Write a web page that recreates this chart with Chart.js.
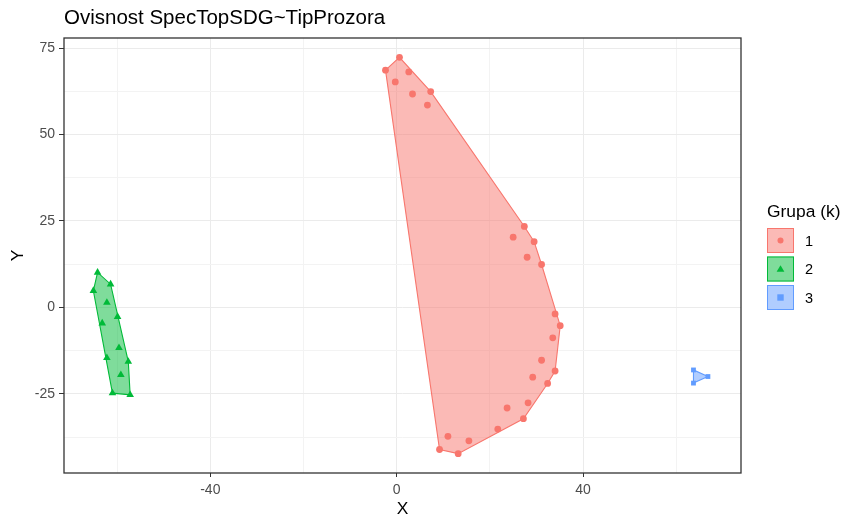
<!DOCTYPE html>
<html>
<head>
<meta charset="utf-8">
<script src="https://cdn.jsdelivr.net/npm/chart.js@4/dist/chart.umd.min.js"></script>
<style>
html,body{margin:0;padding:0;background:#fff;}
#wrap{width:843px;height:518px;position:relative;}
</style>
</head>
<body>
<div id="wrap"><canvas id="c" width="843" height="518"></canvas></div>
<script>
// ---- data ----
const chartTitle = "Ovisnost SpecTopSDG~TipProzora";
const groupNames = ["1", "2", "3"];
const groupColors = ["#F8766D", "#00BA38", "#619CFF"];
const groupFills = ["rgba(248,118,109,0.5)", "rgba(0,186,56,0.5)", "rgba(97,156,255,0.5)"];
const groupShapes = ["circle", "triangle", "rect"];

const group1X = [-2.4, 0.6, 2.6, -0.3, 3.4, 7.3, 6.6, 27.4, 25.0, 29.5, 28.0, 31.1, 34.0, 35.1, 33.5, 31.1, 34.0, 29.2, 32.4, 28.2, 23.7, 27.2, 21.7, 11.0, 15.5, 9.2, 13.2];
const group1Y = [68.6, 72.3, 68.1, 65.2, 61.7, 62.4, 58.5, 23.4, 20.3, 19.0, 14.5, 12.4, -1.9, -5.3, -8.8, -15.3, -18.4, -20.2, -22.0, -27.6, -29.1, -32.2, -35.2, -37.3, -38.6, -41.1, -42.3];
const group2X = [-64.2, -61.4, -65.1, -62.2, -59.9, -63.2, -59.6, -62.2, -57.6, -59.2, -61.0, -57.2];
const group2Y = [10.1, 6.7, 4.8, 1.4, -2.7, -4.6, -11.7, -14.6, -15.7, -19.5, -24.8, -25.3];
const group3X = [63.7, 63.7, 66.8];
const group3Y = [-18.1, -21.9, -20.0];

const xTickValues = [-60, -40, -20, 0, 20, 40, 60];
const xTickLabels = [-40, 0, 40];
const yTickValues = [-37.5, -25, -12.5, 0, 12.5, 25, 37.5, 50, 62.5, 75];
const yTickLabels = [-25, 0, 25, 50, 75];
const xRange = [-71.4, 73.9];
const yRange = [-47.9, 77.9];

// ---- helpers ----
function toPoints(xs, ys) { return xs.map((x, i) => ({x: x, y: ys[i]})); }
function convexHull(pts) {
  const p = pts.slice().sort((a, b) => a.x - b.x || a.y - b.y);
  const cross = (o, a, b) => (a.x - o.x) * (b.y - o.y) - (a.y - o.y) * (b.x - o.x);
  const lower = [];
  for (const q of p) { while (lower.length >= 2 && cross(lower[lower.length-2], lower[lower.length-1], q) <= 0) lower.pop(); lower.push(q); }
  const upper = [];
  for (let i = p.length - 1; i >= 0; i--) { const q = p[i]; while (upper.length >= 2 && cross(upper[upper.length-2], upper[upper.length-1], q) <= 0) upper.pop(); upper.push(q); }
  upper.pop(); lower.pop();
  const h = lower.concat(upper);
  h.push({x: h[0].x, y: h[0].y});
  return h;
}

const groupsXY = [[group1X, group1Y], [group2X, group2Y], [group3X, group3Y]];
const datasets = [];
groupsXY.forEach((g, i) => {
  datasets.push({
    label: "hull" + groupNames[i],
    data: convexHull(toPoints(g[0], g[1])),
    showLine: true,
    fill: 'shape',
    backgroundColor: groupFills[i],
    borderColor: groupColors[i],
    borderWidth: 1.1,
    pointRadius: 0,
    pointHoverRadius: 0,
    tension: 0,
    order: 2
  });
});
groupsXY.forEach((g, i) => {
  datasets.push({
    label: groupNames[i],
    data: toPoints(g[0], g[1]),
    pointStyle: groupShapes[i],
    pointRadius: i === 1 ? 4.4 : 3.4,
    backgroundColor: groupColors[i],
    borderColor: groupColors[i],
    borderWidth: 0,
    showLine: false,
    order: 1
  });
});

const FONT = "'Liberation Sans', Arial, sans-serif";

const panelPlugin = {
  id: 'panel',
  afterDraw(chart) {
    const ctx = chart.ctx, a = chart.chartArea;
    ctx.save();
    ctx.strokeStyle = '#333333';
    ctx.lineWidth = 1.3;
    ctx.strokeRect(a.left, a.top, a.right - a.left, a.bottom - a.top);
    // legend
    const lx = 767;
    ctx.fillStyle = '#000';
    ctx.font = "17.4px " + FONT;
    ctx.textAlign = 'left';
    ctx.textBaseline = 'alphabetic';
    ctx.fillText("Grupa (k)", lx, 217);
    const tops = [228, 256.5, 285];
    groupNames.forEach((n, i) => {
      const t = tops[i];
      ctx.fillStyle = groupFills[i];
      ctx.fillRect(lx, t, 27, 25);
      ctx.strokeStyle = groupColors[i];
      ctx.lineWidth = 1;
      ctx.strokeRect(lx + 0.5, t + 0.5, 26, 24);
      const cx = lx + 13.5, cy = t + 12.5;
      ctx.fillStyle = groupColors[i];
      ctx.beginPath();
      if (groupShapes[i] === 'circle') { ctx.arc(cx, cy, 3, 0, Math.PI * 2); }
      else if (groupShapes[i] === 'triangle') { ctx.moveTo(cx, cy - 3.8); ctx.lineTo(cx + 3.9, cy + 2.8); ctx.lineTo(cx - 3.9, cy + 2.8); ctx.closePath(); }
      else { ctx.rect(cx - 3.2, cy - 3.2, 6.4, 6.4); }
      ctx.fill();
      ctx.fillStyle = '#000';
      ctx.font = "14.5px " + FONT;
      ctx.textBaseline = 'middle';
      ctx.fillText(n, 805, cy + 1);
    });
    ctx.restore();
  }
};

new Chart(document.getElementById('c'), {
  type: 'scatter',
  data: {datasets: datasets},
  options: {
    responsive: false,
    animation: false,
    events: [],
    layout: {padding: {left: 0, right: 102, top: 0, bottom: 0}},
    plugins: {
      legend: {display: false},
      tooltip: {enabled: false},
      title: {
        display: true,
        text: chartTitle,
        align: 'start',
        fullSize: false,
        color: '#000',
        font: {family: FONT, size: 20.5, weight: 'normal'},
        padding: {top: 6.5, bottom: 6.9}
      }
    },
    scales: {
      x: {
        type: 'linear',
        min: xRange[0], max: xRange[1],
        afterFit(s) { s.height = 45; },
        afterBuildTicks(s) { s.ticks = xTickValues.map(v => ({value: v, major: xTickLabels.includes(v)})); },
        ticks: {
          autoSkip: false, maxRotation: 0, padding: 5,
          color: '#4D4D4D', font: {family: FONT, size: 14},
          callback: (v) => xTickLabels.includes(v) ? String(v) : ''
        },
        grid: {
          color: (c) => (c.tick && xTickLabels.includes(c.tick.value)) ? '#EBEBEB' : '#F3F3F3',
          tickColor: (c) => (c.tick && xTickLabels.includes(c.tick.value)) ? '#333333' : 'rgba(0,0,0,0)',
          tickLength: 4,
          lineWidth: 1
        },
        border: {display: false},
        title: {display: true, text: 'X', color: '#000', font: {family: FONT, size: 17.4}, padding: {top: 0, bottom: -1.5}}
      },
      y: {
        type: 'linear',
        min: yRange[0], max: yRange[1],
        afterFit(s) { s.width = 64; },
        afterBuildTicks(s) { s.ticks = yTickValues.map(v => ({value: v, major: yTickLabels.includes(v)})); },
        ticks: {
          autoSkip: false, padding: 4,
          color: '#4D4D4D', font: {family: FONT, size: 14},
          callback: (v) => yTickLabels.includes(v) ? String(v) : ''
        },
        grid: {
          color: (c) => (c.tick && yTickLabels.includes(c.tick.value)) ? '#EBEBEB' : '#F3F3F3',
          tickColor: (c) => (c.tick && yTickLabels.includes(c.tick.value)) ? '#333333' : 'rgba(0,0,0,0)',
          tickLength: 5,
          lineWidth: 1
        },
        border: {display: false},
        title: {display: true, text: 'Y', color: '#000', font: {family: FONT, size: 17.4}, padding: {top: 7.5, bottom: 0}}
      }
    }
  },
  plugins: [panelPlugin]
});
</script>
</body>
</html>
